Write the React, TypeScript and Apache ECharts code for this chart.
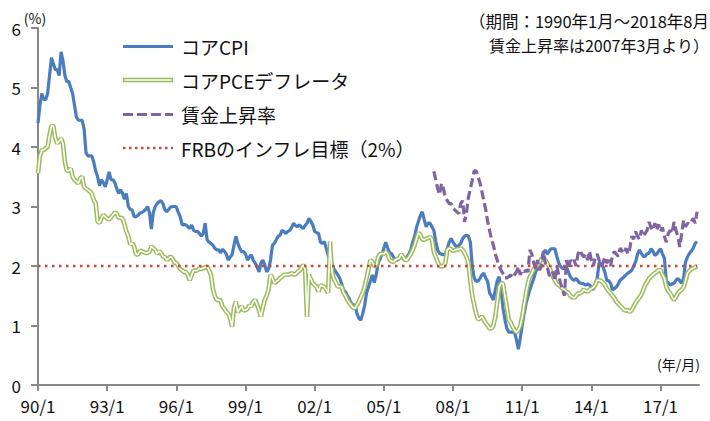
import React, { useEffect, useRef } from "react";
import * as echarts from "echarts";

// Monthly series, 1990/1 .. 2018/8 (index 0 = 1990/1)
const coreCpi: number[] = [
  4.4, 4.7, 4.9, 4.8, 4.8, 4.9, 5.2, 5.5, 5.4, 5.3, 5.3, 5.2,
  5.6, 5.45, 5.2, 5.1, 5.1, 5.0, 4.9, 4.7, 4.5, 4.45, 4.45, 4.45,
  4.3, 3.9, 3.85, 3.85, 3.85, 3.75, 3.6, 3.5, 3.35, 3.45, 3.4, 3.33,
  3.45, 3.58, 3.45, 3.45, 3.4, 3.3, 3.22, 3.28, 3.22, 3.12, 3.22, 3.0,
  2.95, 2.94, 2.83, 2.83, 2.85, 2.89, 2.9, 2.92, 2.95, 3.0, 2.9, 2.62,
  2.9, 3.0, 3.05, 3.08, 3.1, 3.05, 2.95, 2.91, 2.95, 2.99, 3.0, 3.0,
  2.99, 2.9, 2.83, 2.69, 2.7, 2.69, 2.66, 2.63, 2.69, 2.6, 2.58, 2.58,
  2.55, 2.5, 2.55, 2.72, 2.44, 2.4, 2.38, 2.35, 2.3, 2.27, 2.27, 2.22,
  2.28, 2.25, 2.2, 2.1, 2.15, 2.19, 2.35, 2.5, 2.38, 2.3, 2.24, 2.24,
  2.2, 2.1, 2.15, 2.19, 2.1, 2.05, 1.99, 1.9, 2.05, 2.1, 2.02, 1.9,
  1.95, 2.1, 2.35, 2.38, 2.44, 2.5, 2.52, 2.6, 2.58, 2.55, 2.58, 2.6,
  2.65, 2.72, 2.68, 2.66, 2.69, 2.66, 2.63, 2.68, 2.72, 2.8, 2.75, 2.69,
  2.58, 2.56, 2.55, 2.4, 2.38, 2.41, 2.3, 2.18, 2.1, 2.05, 1.95, 1.9,
  1.85, 1.8, 1.7, 1.6, 1.57, 1.5, 1.45, 1.37, 1.35, 1.34, 1.2, 1.12,
  1.09, 1.2, 1.34, 1.55, 1.65, 1.75, 1.85, 1.72, 1.85, 2.05, 2.12, 2.2,
  2.3, 2.4, 2.3, 2.22, 2.21, 2.15, 2.1, 2.1, 2.12, 2.16, 2.12, 2.1,
  2.15, 2.2, 2.27, 2.4, 2.5, 2.65, 2.75, 2.85, 2.91, 2.78, 2.66, 2.72,
  2.72, 2.66, 2.6, 2.41, 2.27, 2.21, 2.2, 2.19, 2.2, 2.3, 2.4, 2.46,
  2.4, 2.35, 2.32, 2.35, 2.38, 2.46, 2.5, 2.52, 2.5, 2.4, 2.0, 1.8,
  1.74, 1.75, 1.79, 1.85, 1.88, 1.8, 1.74, 1.55, 1.49, 1.43, 1.6, 1.75,
  1.82, 1.6, 1.29, 1.1, 0.95, 0.89, 0.89, 0.89, 0.89, 0.76, 0.6, 0.79,
  1.0, 1.2, 1.37, 1.5, 1.6, 1.7, 1.79, 1.9, 1.96, 2.05, 2.1, 2.21,
  2.27, 2.2, 2.25, 2.29, 2.29, 2.29, 2.16, 2.05, 1.99, 1.96, 1.96, 1.99,
  1.9, 1.82, 1.78, 1.76, 1.79, 1.75, 1.71, 1.71, 1.7, 1.68, 1.7, 1.68,
  1.65, 1.6, 1.7, 1.79, 2.05, 2.05, 1.99, 1.9, 1.76, 1.75, 1.71, 1.6,
  1.62, 1.65, 1.7, 1.76, 1.79, 1.82, 1.85, 1.88, 1.9, 1.93, 2.0, 2.07,
  2.2, 2.27, 2.21, 2.16, 2.16, 2.21, 2.21, 2.29, 2.25, 2.18, 2.2, 2.25,
  2.29, 2.2, 2.13, 1.74, 1.72, 1.68, 1.7, 1.71, 1.76, 1.79, 1.75, 1.71,
  1.8, 2.07, 2.15, 2.21, 2.25, 2.3, 2.38, 2.41,
];

const corePce: number[] = [
  3.56, 3.85, 3.95, 3.95, 3.98, 4.0, 4.2, 4.36, 4.35, 4.15, 4.06, 4.1,
  4.14, 4.06, 3.75, 3.6, 3.6, 3.64, 3.5, 3.45, 3.42, 3.39, 3.47, 3.5,
  3.33, 3.3, 3.28, 3.25, 3.22, 3.11, 3.06, 2.75, 2.72, 2.8, 2.86, 2.83,
  2.8, 2.78, 2.82, 2.86, 2.9, 2.88, 2.81, 2.81, 2.8, 2.7, 2.58, 2.5,
  2.36, 2.39, 2.33, 2.2, 2.19, 2.25, 2.25, 2.23, 2.22, 2.22, 2.24, 2.33,
  2.3, 2.27, 2.21, 2.25, 2.22, 2.16, 2.15, 2.1, 2.13, 2.16, 2.12, 2.06,
  2.05, 2.0, 1.95, 1.93, 1.9, 1.9, 1.85, 1.76, 1.85, 1.93, 1.92, 1.93,
  1.96, 1.95, 1.96, 1.98, 1.99, 1.93, 1.85, 1.62, 1.5, 1.43, 1.43, 1.42,
  1.32, 1.28, 1.23, 1.2, 1.12, 0.98, 1.3, 1.4, 1.22, 1.28, 1.32, 1.25,
  1.26, 1.28, 1.34, 1.32, 1.4, 1.43, 1.35, 1.26, 1.15, 1.3, 1.43, 1.5,
  1.6, 1.85, 1.8, 1.71, 1.74, 1.76, 1.8, 1.82, 1.85, 1.86, 1.85, 1.86,
  1.88, 1.86, 1.86, 1.9, 1.92, 1.96, 2.02, 1.95, 1.15, 1.85, 1.78, 1.71,
  1.68, 1.65, 1.57, 1.68, 1.66, 1.65, 1.6, 1.55, 2.41, 1.9, 1.78, 1.72,
  1.65, 1.66, 1.65, 1.55, 1.5, 1.43, 1.38, 1.34, 1.3, 1.29, 1.35, 1.4,
  1.48, 1.55, 1.65, 1.8, 1.95, 2.1, 2.07, 2.0, 2.0, 2.15, 2.2, 2.21,
  2.2, 2.24, 2.2, 2.1, 2.08, 2.07, 2.1, 2.12, 2.13, 2.2, 2.16, 2.1,
  2.1, 2.15, 2.2, 2.27, 2.35, 2.46, 2.56, 2.52, 2.45, 2.44, 2.46, 2.47,
  2.49, 2.45, 2.24, 2.15, 2.07, 2.0, 1.99, 2.0, 2.05, 2.27, 2.3, 2.28,
  2.25, 2.27, 2.28, 2.28, 2.3, 2.27, 2.22, 2.15, 2.05, 1.75, 1.5, 1.35,
  1.2, 1.1, 1.12, 1.15, 1.1, 1.04, 1.0, 0.95, 0.95, 1.0, 1.15, 1.4,
  1.65, 1.71, 1.71, 1.5, 1.3, 1.1, 1.05, 0.98, 0.92, 0.89, 0.92, 1.0,
  1.15, 1.35, 1.55, 1.71, 1.82, 1.88, 1.95, 1.99, 2.02, 2.05, 2.13, 2.12,
  2.1, 2.05, 1.99, 1.9, 1.82, 1.76, 1.7, 1.68, 1.65, 1.62, 1.6, 1.57,
  1.55, 1.5, 1.48, 1.46, 1.5, 1.54, 1.54, 1.56, 1.6, 1.58, 1.57, 1.6,
  1.62, 1.64, 1.68, 1.76, 1.76, 1.75, 1.72, 1.68, 1.62, 1.58, 1.54, 1.5,
  1.46, 1.4, 1.37, 1.33, 1.3, 1.26, 1.25, 1.26, 1.23, 1.26, 1.32, 1.38,
  1.43, 1.47, 1.52, 1.6, 1.68, 1.73, 1.79, 1.82, 1.85, 1.88, 1.9, 1.93,
  1.93, 1.85, 1.79, 1.65, 1.58, 1.54, 1.48, 1.43, 1.48, 1.54, 1.58, 1.6,
  1.65, 1.75, 1.88, 1.92, 1.95, 1.96, 1.98, 2.0,
];

// Wage growth, 2007/3 .. 2018/8
const wageStartIndex = 206;
const wageGrowth: number[] = [
  3.59, 3.45, 3.3, 3.2, 3.39, 3.3, 3.15, 3.1, 3.05, 3.05,
  2.97, 2.94, 2.91, 2.88, 3.05, 3.1, 2.74, 2.9, 3.15, 3.3, 3.44, 3.6,
  3.6, 3.5, 3.4, 3.25, 3.1, 2.95, 2.75, 2.6, 2.45, 2.35, 2.2, 2.1,
  2.0, 1.93, 1.87, 1.8, 1.8, 1.82, 1.85, 1.8, 1.85, 1.9, 1.99, 1.85,
  1.93, 1.9, 1.93, 1.9, 2.27, 2.2, 2.05, 1.95, 2.1, 1.93, 2.0, 2.25,
  2.05, 1.99, 1.85, 1.82, 1.9, 1.75, 2.0, 1.85, 1.7, 1.6, 1.5, 2.1,
  1.95, 2.1, 2.05, 2.1, 2.0, 2.2, 2.27, 2.2, 2.15, 2.2, 2.1, 2.25,
  2.1, 2.0, 2.15, 2.2, 2.1, 2.0, 2.05, 2.15, 2.05, 2.1, 2.0, 2.2,
  2.24, 2.2, 2.16, 2.3, 2.25, 2.21, 2.3, 2.2, 2.3, 2.5, 2.45, 2.58,
  2.5, 2.45, 2.6, 2.5, 2.55, 2.6, 2.74, 2.65, 2.6, 2.72, 2.6, 2.7,
  2.58, 2.65, 2.5, 2.4, 2.55, 2.6, 2.55, 2.74, 2.6, 2.5, 2.32, 2.55,
  2.77, 2.66, 2.72, 2.7, 2.75, 2.8, 2.72, 2.91,
];

const frbTarget = 2;
const tickMonths = [0, 36, 72, 108, 144, 180, 216, 252, 288, 324];
const tickLabels = ["90/1", "93/1", "96/1", "99/1", "02/1", "05/1", "08/1", "11/1", "14/1", "17/1"];
const yTicks = [0, 1, 2, 3, 4, 5, 6];

const legendNames = ["コアCPI", "コアPCEデフレータ", "賃金上昇率", "FRBのインフレ目標（2%）"];

const FONT = "'Noto Sans CJK JP', 'Noto Sans', sans-serif";
const BLUE = "#4a7cc0";
const GREEN = "#9bbb59";
const PURPLE = "#8064a2";
const RED = "#c9463d";
const AXIS = "#888888";

export default function App() {
  const ref = useRef<HTMLDivElement>(null);

  useEffect(() => {
    if (!ref.current) return;
    const chart = echarts.init(ref.current, undefined, { renderer: "svg" });

    const cpiData = coreCpi.map((v, i) => [i, v]);
    const pceData = corePce.map((v, i) => [i, v]);
    const wageData = wageGrowth.map((v, i) => [wageStartIndex + i, v]);
    const lastIdx = coreCpi.length - 1;
    const frbData = [[0, frbTarget], [lastIdx, frbTarget]];

    const legendX1 = 123;
    const legendX2 = 173;
    const legendTextX = 181;
    const legendYs = [46.5, 80, 114.5, 148];

    const legendGraphics: any[] = [];
    legendYs.forEach((y, k) => {
      if (k === 0) {
        legendGraphics.push({ type: "line", shape: { x1: legendX1, y1: y, x2: legendX2, y2: y }, style: { stroke: BLUE, lineWidth: 3.2 } });
      } else if (k === 1) {
        legendGraphics.push({ type: "line", shape: { x1: legendX1, y1: y, x2: legendX2, y2: y }, style: { stroke: GREEN, lineWidth: 4.6 } });
        legendGraphics.push({ type: "line", shape: { x1: legendX1 + 1.5, y1: y, x2: legendX2 - 1.5, y2: y }, style: { stroke: "#ffffff", lineWidth: 1.6 } });
      } else if (k === 2) {
        legendGraphics.push({ type: "line", shape: { x1: legendX1, y1: y, x2: legendX2, y2: y }, style: { stroke: PURPLE, lineWidth: 3.2, lineDash: [10, 4] } });
      } else {
        legendGraphics.push({ type: "line", shape: { x1: legendX1, y1: y, x2: legendX2, y2: y }, style: { stroke: RED, lineWidth: 2.5, lineDash: [2.5, 3.5] } });
      }
      legendGraphics.push({
        type: "text", x: legendTextX, y,
        style: { text: legendNames[k], font: `19px ${FONT}`, fill: "#111", verticalAlign: "middle", align: "left" },
      });
    });

    chart.setOption({
      animation: false,
      backgroundColor: "#ffffff",
      grid: { left: 38, right: 11, top: 28, bottom: 36, containLabel: false },
      xAxis: {
        type: "value",
        min: 0,
        max: 344,
        interval: 36,
        axisLine: { show: true, lineStyle: { color: AXIS, width: 2 } },
        axisTick: { show: true, length: 6, lineStyle: { color: AXIS, width: 2 }, customValues: tickMonths },
        axisLabel: {
          customValues: tickMonths,
          formatter: (v: number) => {
            const i = tickMonths.indexOf(Math.round(v));
            return i >= 0 ? tickLabels[i] : "";
          },
          color: "#111",
          fontSize: 17,
          fontFamily: FONT,
          margin: 12,
        },
        splitLine: { show: false },
      },
      yAxis: {
        type: "value",
        min: 0,
        max: 6,
        interval: 1,
        axisLine: { show: true, lineStyle: { color: AXIS, width: 2 } },
        axisTick: { show: true, length: 7, lineStyle: { color: AXIS, width: 2 } },
        axisLabel: {
          formatter: (v: number) => (yTicks.indexOf(v) >= 0 ? String(v) : ""),
          color: "#111",
          fontSize: 17,
          fontFamily: FONT,
          margin: 17,
        },
        splitLine: { show: false },
      },
      series: [
        {
          name: legendNames[0], type: "line", data: cpiData, showSymbol: false, symbol: "none",
          lineStyle: { color: BLUE, width: 3.2 }, z: 2,
        },
        {
          name: legendNames[1], type: "line", data: pceData, showSymbol: false, symbol: "none",
          lineStyle: { color: GREEN, width: 4.6 }, z: 3,
        },
        {
          name: legendNames[1] + "_inner", type: "line", data: pceData, showSymbol: false, symbol: "none",
          lineStyle: { color: "#ffffff", width: 1.6 }, z: 4, silent: true,
        },
        {
          name: legendNames[2], type: "line", data: wageData, showSymbol: false, symbol: "none",
          lineStyle: { color: PURPLE, width: 3.2, type: [9, 4] }, z: 5,
        },
        {
          name: legendNames[3], type: "line", data: frbData, showSymbol: false, symbol: "none",
          lineStyle: { color: RED, width: 2.5, type: [2.5, 4.5] }, z: 6,
        },
      ],
      graphic: [
        ...legendGraphics,
        { type: "text", x: 35, y: 18, style: { text: "(%)", font: `14px ${FONT}`, fill: "#111", align: "center", verticalAlign: "middle" } },
        { type: "text", x: 709, y: 21, style: { text: "（期間：1990年1月～2018年8月", font: `16.5px ${FONT}`, fill: "#111", align: "right", verticalAlign: "middle" } },
        { type: "text", x: 709, y: 45, style: { text: "賃金上昇率は2007年3月より）", font: `16px ${FONT}`, fill: "#111", align: "right", verticalAlign: "middle" } },
        { type: "text", x: 700, y: 364, style: { text: "(年/月)", font: `14px ${FONT}`, fill: "#111", align: "right", verticalAlign: "middle" } },
      ],
    });

    return () => chart.dispose();
  }, []);

  return <div ref={ref} style={{ position: "fixed", left: 0, top: 0, width: 710, height: 421, background: "#fff" }} />;
}
